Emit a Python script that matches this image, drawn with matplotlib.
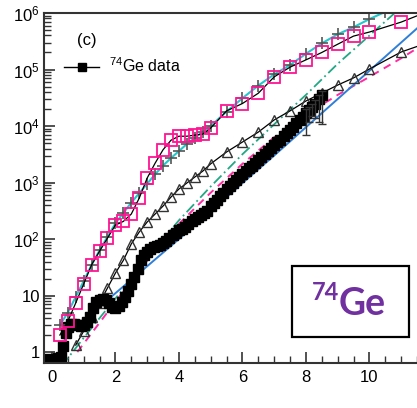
import numpy as np
import matplotlib
matplotlib.use("Agg")
import matplotlib.pyplot as plt
from matplotlib.lines import Line2D
from matplotlib.patches import Rectangle
from matplotlib.ticker import FixedLocator, FuncFormatter, LogLocator, MultipleLocator

plt.rcParams['font.family'] = ['Liberation Sans', 'DejaVu Sans']
plt.rcParams['mathtext.fontset'] = 'custom'
plt.rcParams['mathtext.rm'] = 'Liberation Sans'
plt.rcParams['mathtext.it'] = 'Liberation Sans:italic'

# 74Ge data (black squares)
data_x = [-0.1, 0.0, 0.1, 0.2, 0.3, 0.35, 0.45, 0.5, 0.6, 0.7, 0.8, 0.9, 1.0,
          1.1, 1.2, 1.3, 1.4, 1.5, 1.6, 1.7, 1.8, 1.9, 2.0, 2.1, 2.2, 2.3, 2.4,
          2.5, 2.6, 2.7, 2.8, 2.9, 3.0, 3.1, 3.2, 3.3, 3.4, 3.5, 3.6, 3.7, 3.8,
          3.9, 4.0, 4.1, 4.2, 4.3, 4.4, 4.5, 4.6, 4.7, 4.8, 4.9, 5.0, 5.1, 5.2,
          5.3, 5.4, 5.5, 5.6, 5.7, 5.8, 5.9, 6.0, 6.1, 6.2, 6.3, 6.4, 6.5, 6.6,
          6.7, 6.8, 6.9, 7.0, 7.1, 7.2, 7.3, 7.4, 7.5, 7.6, 7.7, 7.8, 7.9, 8.0,
          8.1, 8.2, 8.3, 8.4, 8.5]
data_y = [0.75, 0.72, 0.72, 0.8, 0.82, 1.3, 2.2, 2.8, 3.1, 3.2, 3.0, 2.9, 3.0,
          3.4, 4.2, 6.0, 7.8, 8.5, 8.7, 8.4, 7.5, 6.3, 6.0, 6.5, 7.8, 9.5, 12,
          16, 21, 30, 42, 52, 60, 67, 72, 76, 80, 86, 94, 105, 118,
          130, 142, 150, 165, 185, 205, 225, 245, 265, 290, 315, 380, 436, 500,
          575, 660, 776, 870, 977, 1120, 1260, 1410, 1580, 1780, 2000, 2240, 2510, 2820,
          3160, 3630, 4070, 4570, 5130, 5750, 6610, 7410, 8510, 9770, 11200, 12600, 14500, 17000,
          19000, 21400, 25000, 30000, 36000]
err_x = [8.0, 8.1, 8.2, 8.3, 8.4, 8.5]
err_y = [17000, 19000, 21400, 25000, 30000, 36000]
err_lo = [6900, 12000, 15000, 14000, 12000, 11000]
err_hi = [20000, 22000, 25000, 29000, 35000, 42000]

# magenta open squares
sq_x = [0.25, 0.5, 0.75, 1.0, 1.25, 1.5, 1.75, 2.0, 2.25, 2.5, 2.75, 3.0, 3.25,
        3.5, 3.75, 4.0, 4.25, 4.5, 4.75, 5.0, 5.5, 6.0, 6.5, 7.0, 7.5, 8.0,
        8.5, 9.0, 9.5, 10.0, 11.0, 12.0]
sq_y = [2.0, 3.5, 7.4, 16, 35, 61, 104, 177, 205, 277, 530, 1200, 2200,
        3800, 5600, 6600, 6600, 6900, 7200, 9200, 18500, 25000, 38000, 74000, 110000, 148000,
        200000, 280000, 390000, 460000, 690000, 1150000]

# cyan line with grey crosses
cy_x = [0.25, 0.5, 0.75, 1.0, 1.25, 1.5, 1.75, 2.0, 2.25, 2.5, 2.75, 3.0, 3.25,
        3.5, 3.75, 4.0, 4.25, 4.5, 4.75, 5.0, 5.5, 6.0, 6.5, 7.0, 7.5, 8.0,
        8.5, 9.0, 9.5, 10.0, 10.5]
cy_y = [3.0, 5.0, 9.5, 18, 35, 63, 110, 190, 290, 440, 650, 950, 1400,
        2000, 2700, 3600, 4800, 6200, 7900, 10000, 18000, 31000, 52000, 82000, 120000, 190000,
        290000, 420000, 560000, 780000, 1050000]

# open triangles
tr_x = [0.75, 1.0, 1.25, 1.5, 1.75, 2.0, 2.25, 2.5, 2.75, 3.0, 3.25, 3.5, 3.75,
        4.0, 4.25, 4.5, 4.75, 5.0, 5.5, 6.0, 6.5, 7.0, 7.5, 8.0, 8.5, 9.0,
        9.5, 10.0, 11.0, 12.0]
tr_y = [1.33, 2.35, 4.2, 7.4, 13.6, 25, 42, 82, 133, 200, 277, 383, 553,
        767, 980, 1250, 1590, 2140, 3470, 5200, 7800, 12800, 18500, 27700, 38300, 53000,
        71000, 102000, 204000, 320000]

# model curves
blue_x = [0.4, 1.0, 2.0, 3.0, 4.0, 5.0, 6.0, 7.0, 8.0, 9.0, 10.0, 11.0, 12.0]
blue_y = [1.7, 3.6, 11, 33, 100, 310, 980, 3000, 9500, 30000, 95000, 300000, 950000]
pink_x = [0.8, 1.0, 1.5, 2.0, 2.5, 3.0, 3.5, 4.0, 5.0, 6.0, 7.0, 8.0, 9.0, 10.0, 11.0, 12.0]
pink_y = [1.0, 1.41, 3.3, 7.8, 17.8, 41.7, 93, 186, 660, 2140, 6300, 15800, 35500, 74000, 158000, 355000]
teal_x = [0.3, 1.0, 2.0, 3.0, 3.5, 4.0, 5.0, 6.0, 7.0, 8.0, 9.0, 10.0, 10.8, 12.0]
teal_y = [0.56, 1.78, 8.9, 42, 100, 214, 850, 3160, 10700, 35500, 126000, 398000, 1000000, 4000000]

fig = plt.figure(figsize=(4.17, 4.08), dpi=100)
ax = fig.add_axes([44 / 417, 45 / 408, 1 - 44 / 417, 350 / 408])
ax.set_yscale('log')
ax.set_xlim(-0.25, 11.5)
ax.set_ylim(0.64, 1e6)

ax.plot(teal_x, teal_y, color='#22a884', lw=1.3, ls=(0, (6, 2, 1, 2)))
ax.plot(pink_x, pink_y, color='#ff2aa0', lw=1.4, ls=(0, (4, 3)))
ax.plot(blue_x, blue_y, color='#2f7fd8', lw=1.4)
ax.plot(tr_x, tr_y, color='black', lw=0.9, marker='^', ms=7, mfc='none',
        mec='#333333', mew=1.0)
ax.plot(data_x, data_y, ls='none', marker='s', ms=7, color='black')
ax.errorbar(err_x, err_y, yerr=[np.array(err_y) - np.array(err_lo),
                                np.array(err_hi) - np.array(err_y)],
            fmt='none', ecolor='#333333', elinewidth=1.0, capsize=3)
ax.plot(cy_x, cy_y, color='#22c8cc', lw=1.5, marker='+', ms=8, mec='#555555',
        mew=1.2)
ax.plot(sq_x, sq_y, color='black', lw=0.9, marker='s', ms=8, mfc='none',
        mec='#ff1493', mew=1.3)

for s in ['top', 'bottom', 'left']:
    ax.spines[s].set_linewidth(1.5)
    ax.spines[s].set_color('#333333')
ax.spines['right'].set_visible(False)

ax.xaxis.set_major_locator(MultipleLocator(2))
ax.xaxis.set_minor_locator(MultipleLocator(0.5))
ax.yaxis.set_major_locator(FixedLocator([1, 10, 100, 1e3, 1e4, 1e5, 1e6]))
ax.yaxis.set_minor_locator(LogLocator(base=10, subs=np.arange(2, 10)))


def ylab(v, pos):
    if v == 1:
        return '1'
    if v == 10:
        return '10'
    return '$10^{%d}$' % int(round(np.log10(v)))


ax.yaxis.set_major_formatter(FuncFormatter(ylab))
ax.tick_params(axis='both', which='both', direction='in', top=False,
               right=False, labelsize=12, color='#333333')
ax.tick_params(axis='both', which='major', length=8, width=1.2)
ax.tick_params(axis='both', which='minor', length=5, width=1.0)
ax.tick_params(axis='x', pad=5)
ax.tick_params(axis='y', pad=3)

ax.text(87 / 417, 368 / 408, '(c)', transform=fig.transFigure, fontsize=12,
        ha='center', va='center')
handle = Line2D([], [], color='black', lw=1.0, marker='s', ms=6)
ax.legend([handle], ['$^{74}$Ge data'], loc='center left',
          bbox_to_anchor=(64 / 417, 342 / 408), bbox_transform=fig.transFigure,
          frameon=False, fontsize=11.5, handlelength=2.2, handletextpad=0.6,
          borderpad=0, borderaxespad=0)

fig.add_artist(Rectangle((292 / 417, 71 / 408), 117 / 417, 71 / 408,
                         transform=fig.transFigure, fill=False,
                         edgecolor='black', lw=1.6))
fig.text(312 / 417, 108 / 408, '74', fontsize=17, fontweight='bold',
         family='Lato', color='#7030A0', ha='left', va='baseline')
fig.text(339 / 417, 93 / 408, 'Ge', fontsize=27, fontweight='bold',
         family='Lato', color='#7030A0', ha='left', va='baseline')

fig.savefig('out.png', dpi=100)
